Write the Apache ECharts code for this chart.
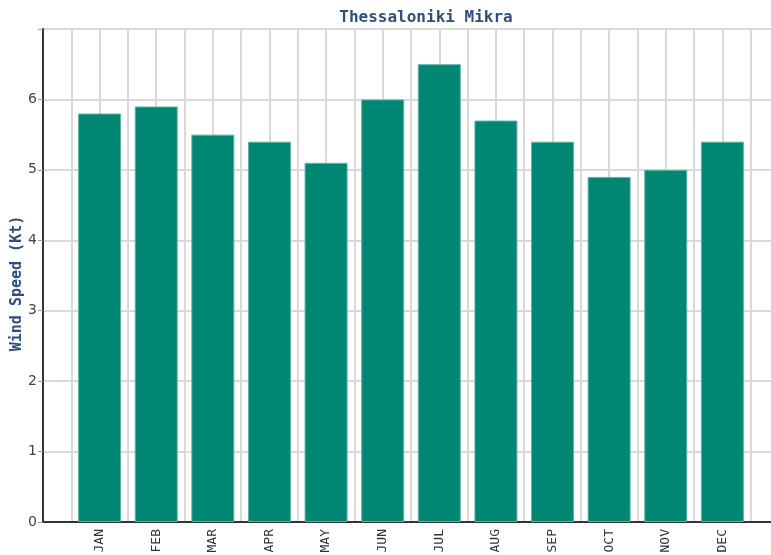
<!DOCTYPE html>
<html>
<head>
<meta charset="utf-8">
<script src="https://cdn.jsdelivr.net/npm/echarts@6/dist/echarts.min.js"></script>
<style>
html, body { margin: 0; padding: 0; background: #fff; }
#main { width: 771px; height: 555px; }
</style>
</head>
<body>
<div id="main"></div>
<script>
// monthly mean wind speed
var months = ['JAN', 'FEB', 'MAR', 'APR', 'MAY', 'JUN', 'JUL', 'AUG', 'SEP', 'OCT', 'NOV', 'DEC'];
var windSpeed = [5.8, 5.9, 5.5, 5.4, 5.1, 6.0, 6.5, 5.7, 5.4, 4.9, 5.0, 5.4];
var yTicks = [0, 1, 2, 3, 4, 5, 6];

var barData = [];
for (var i = 0; i < months.length; i++) {
    barData.push([i + 1, windSpeed[i]]);
}

var chart = echarts.init(document.getElementById('main'));
chart.setOption({
    animation: false,
    title: {
        text: 'Thessaloniki Mikra',
        left: 421,
        textAlign: 'center',
        top: 5,
        textStyle: {
            fontFamily: 'DejaVu Sans Mono',
            fontWeight: 'bold',
            fontSize: 16,
            color: '#2d4f7c'
        }
    },
    grid: {
        left: 43,
        right: -8,
        top: 29,
        bottom: 33,
        outerBoundsMode: 'none',
        containLabel: false,
        show: true,
        borderColor: '#333',
        borderWidth: 2
    },
    xAxis: {
        type: 'value',
        min: 0,
        max: 13,
        interval: 0.5,
        axisLine: { lineStyle: { color: '#333', width: 2 } },
        axisTick: { show: false },
        splitLine: { show: true, lineStyle: { color: '#d9d9d9', width: 2 } },
        axisLabel: {
            rotate: 90,
            margin: 7,
            fontFamily: 'DejaVu Sans Mono',
            fontSize: 13,
            color: '#333',
            formatter: function (v) {
                return (v % 1 === 0 && v >= 1 && v <= 12) ? months[v - 1] : '';
            }
        }
    },
    yAxis: {
        type: 'value',
        min: 0,
        max: 7,
        interval: 1,
        name: 'Wind Speed (Kt)',
        nameLocation: 'middle',
        nameGap: 18,
        nameMoveOverlap: false,
        nameTextStyle: {
            fontFamily: 'DejaVu Sans Mono',
            fontWeight: 'bold',
            fontSize: 15,
            color: '#2d4f7c',
            padding: [0, 16, 0, 0]
        },
        axisLine: { show: true, lineStyle: { color: '#333', width: 2 } },
        axisTick: { show: true, length: 5, lineStyle: { color: '#999' } },
        splitLine: { show: true, lineStyle: { color: '#d9d9d9', width: 2 } },
        axisLabel: {
            margin: 6,
            fontFamily: 'DejaVu Sans',
            fontSize: 14,
            color: '#444',
            formatter: function (v) {
                return yTicks.indexOf(v) >= 0 ? String(v) : '';
            }
        }
    },
    series: [
        {
            name: 'Wind Speed',
            type: 'bar',
            barWidth: 43,
            data: barData,
            itemStyle: {
                color: '#008774',
                borderColor: '#5fb3a5',
                borderWidth: 1
            }
        }
    ]
});
</script>
</body>
</html>
